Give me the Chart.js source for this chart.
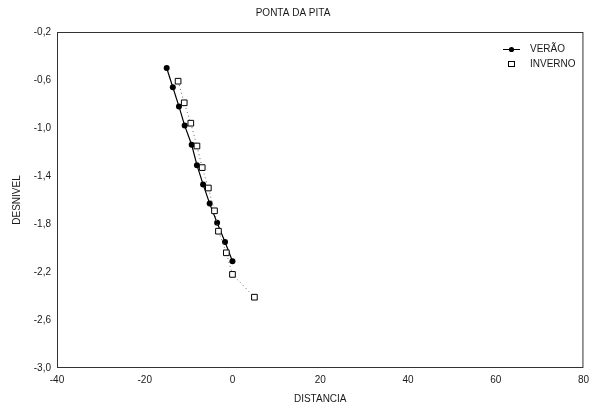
<!DOCTYPE html>
<html>
<head>
<meta charset="utf-8">
<script src="https://cdn.jsdelivr.net/npm/chart.js@4"></script>
<style>
  html, body { margin: 0; padding: 0; background: #fff; }
  #wrap { width: 595px; height: 408px; }
</style>
</head>
<body>
<div id="wrap"><canvas id="pontaChart" width="595" height="408"></canvas></div>
<script>
// data
const veraoDist = [-15.0, -13.6, -12.2, -10.9, -9.3, -8.1, -6.7, -5.2, -3.5, -1.7, 0.0]
const veraoDesnivel = [-0.50, -0.66, -0.82, -0.98, -1.14, -1.31, -1.47, -1.63, -1.79, -1.95, -2.11]
const invernoDist = [-12.4, -11.0, -9.5, -8.1, -6.9, -5.5, -4.1, -3.2, -1.4, 0.0, 5.0]
const invernoDesnivel = [-0.61, -0.79, -0.96, -1.15, -1.33, -1.50, -1.69, -1.86, -2.04, -2.22, -2.41]

const FONT = "'Liberation Sans', Arial, sans-serif"
const INK = '#1a1a1a'

function toPoints(xs, ys) {
    return xs.map((x, i) => ({ x: x, y: ys[i] }))
}

// frame, title and legend drawn by hand
const framePlugin = {
    id: 'frame',
    afterDraw(chart) {
        const { ctx, chartArea: a } = chart
        ctx.save()
        ctx.strokeStyle = '#333'
        ctx.lineWidth = 1
        ctx.strokeRect(a.left + 0.5, a.top + 0.5, a.right - a.left - 1, a.bottom - a.top - 1)

        ctx.fillStyle = INK
        ctx.font = '10px ' + FONT
        ctx.textAlign = 'center'
        ctx.textBaseline = 'middle'
        ctx.fillText('PONTA DA PITA', 293, 13)

        // legend
        ctx.textAlign = 'left'
        ctx.fillText('VERÃO', 530, 49)
        ctx.fillText('INVERNO', 530, 64)
        ctx.strokeStyle = '#000'
        ctx.beginPath()
        ctx.moveTo(503, 49.5)
        ctx.lineTo(520, 49.5)
        ctx.stroke()
        ctx.fillStyle = '#000'
        ctx.beginPath()
        ctx.arc(511.5, 49.5, 2.6, 0, Math.PI * 2)
        ctx.fill()
        ctx.fillStyle = '#fff'
        ctx.fillRect(508.5, 61.5, 6, 5)
        ctx.strokeRect(508.5, 61.5, 6, 5)
        ctx.restore()
    }
}

const context = document.getElementById('pontaChart')
const data = {
    datasets: [
        {
            label: 'INVERNO',
            data: toPoints(invernoDist, invernoDesnivel),
            borderColor: '#666',
            borderWidth: 1,
            borderDash: [1, 3],
            pointStyle: 'rect',
            pointRadius: 4,
            pointBackgroundColor: '#fff',
            pointBorderColor: '#000',
            pointBorderWidth: 1,
            showLine: true
        },
        {
            label: 'VERÃO',
            data: toPoints(veraoDist, veraoDesnivel),
            borderColor: '#000',
            borderWidth: 1.2,
            pointStyle: 'circle',
            pointRadius: 3,
            pointBorderWidth: 0,
            pointBackgroundColor: '#000',
            pointBorderColor: '#000',
            showLine: true
        }
    ]
}

const config = {
    type: 'scatter',
    data: data,
    options: {
        responsive: false,
        animation: false,
        layout: { padding: { top: 32, right: 7, left: 11, bottom: 0 } },
        plugins: {
            legend: { display: false },
            title: { display: false },
            tooltip: { enabled: false }
        },
        scales: {
            x: {
                min: -40,
                max: 80,
                grid: { display: false, drawTicks: false },
                border: { display: false },
                ticks: {
                    stepSize: 20,
                    padding: 6,
                    color: INK,
                    font: { family: FONT, size: 10 },
                    maxRotation: 0
                },
                title: {
                    display: true,
                    text: 'DISTANCIA',
                    color: INK,
                    font: { family: FONT, size: 10 },
                    padding: { top: 4, bottom: 3 }
                },
                afterFit(scale) { scale.height = 40 }
            },
            y: {
                min: -3.0,
                max: -0.2,
                grid: { display: false, drawTicks: false },
                border: { display: false },
                ticks: {
                    stepSize: 0.4,
                    padding: 6,
                    color: INK,
                    font: { family: FONT, size: 10 },
                    callback: value => value.toFixed(1).replace('.', ',')
                },
                title: {
                    display: true,
                    text: 'DESNIVEL',
                    color: INK,
                    font: { family: FONT, size: 10 },
                    padding: { top: 0, bottom: 4 }
                },
                afterFit(scale) { scale.width = 46 }
            }
        }
    },
    plugins: [framePlugin]
}
new Chart(context, config)
</script>
</body>
</html>
